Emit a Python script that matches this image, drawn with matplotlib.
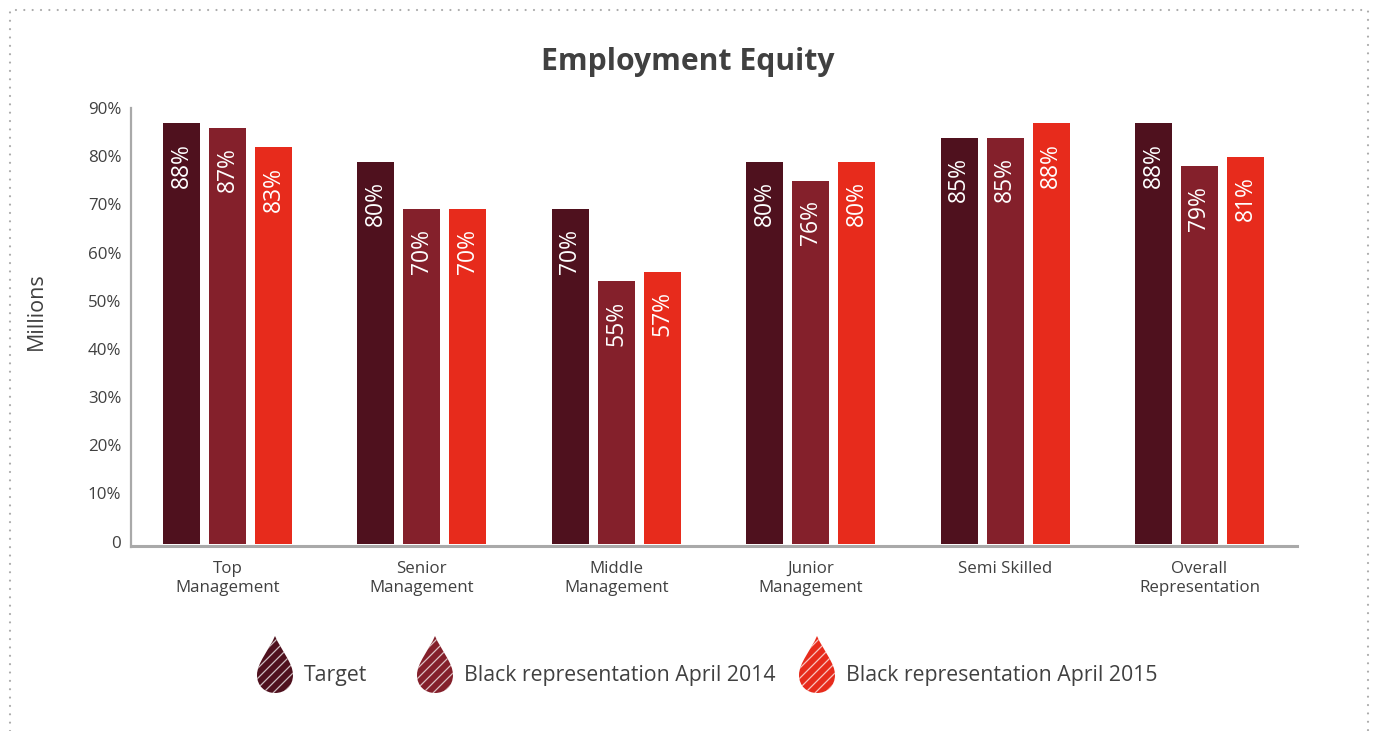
import numpy as np
import matplotlib
matplotlib.use("Agg")
import matplotlib.pyplot as plt
from matplotlib.path import Path
from matplotlib.patches import PathPatch

plt.rcParams['font.family'] = ['Open Sans', 'DejaVu Sans']

categories = ["Top\nManagement", "Senior\nManagement", "Middle\nManagement",
              "Junior\nManagement", "Semi Skilled", "Overall\nRepresentation"]
target = [88, 80, 70, 80, 85, 88]
april_2014 = [87, 70, 55, 76, 85, 79]
april_2015 = [83, 70, 57, 80, 88, 81]
tick_labels = ["0", "10%", "20%", "30%", "40%", "50%", "60%", "70%", "80%", "90%"]
series_names = ["Target", "Black representation April 2014", "Black representation April 2015"]

COLORS = ["#4f111e", "#84202b", "#e72b1c"]
TEXT = "#404040"
AXIS = "#a9a9a9"
W, H = 1375, 731

fig = plt.figure(figsize=(W / 100, H / 100), dpi=100, facecolor="white")

# overlay in pixel coordinates for the frame, title and legend
bg = fig.add_axes([0, 0, 1, 1])
bg.set_xlim(0, W)
bg.set_ylim(H, 0)
bg.axis("off")

# dotted frame, open at the bottom
bg.plot([10, 10, 1368, 1368], [H, 10, 10, H], color="#ababab", lw=1.6,
        linestyle=(0, (0.01, 3.75)), dash_capstyle="round")

bg.text(688, 62, "Employment Equity", ha="center", va="center",
        fontsize=21.7, fontweight="bold", color=TEXT)
bg.text(36, 311, "Millions", rotation=90, ha="center", va="center",
        fontsize=15.5, color=TEXT)


def draw_drop(cx, top, color):
    # teardrop outline, 36 px wide and 57 px high
    verts = [(cx, top), (cx + 6, top + 14), (cx + 18, top + 27), (cx + 18, top + 39),
             (cx + 18, top + 50), (cx + 10, top + 57), (cx, top + 57),
             (cx - 10, top + 57), (cx - 18, top + 50), (cx - 18, top + 39),
             (cx - 18, top + 27), (cx - 6, top + 14), (cx, top)]
    codes = [Path.MOVETO] + [Path.CURVE4] * 12
    patch = PathPatch(Path(verts, codes), facecolor=color, edgecolor="none", zorder=2)
    bg.add_patch(patch)
    # diagonal stripes clipped to the drop
    for off in np.arange(-30, 60, 10):
        line, = bg.plot([cx - 25, cx + 25], [top + off + 50, top + off],
                        color="white", alpha=0.72, lw=0.9, zorder=3)
        line.set_clip_path(patch)


for cx, text_x, name, color in zip([275, 435, 817], [304, 464, 846], series_names, COLORS):
    draw_drop(cx, 636, color)
    bg.text(text_x, 676, name, ha="left", va="center", fontsize=15.3, color=TEXT)

# bar chart, spanning x 131-1297 and y 108-544 px
ax = fig.add_axes([131 / W, 1 - 544 / H, (1297 - 131) / W, (544 - 108) / H])
ax.patch.set_alpha(0)

x = np.arange(len(categories))
width = 37 / 194.4
offset = 46 / 194.4
px_per_unit = 4.78
ax.set_xlim(-96.5 / 194.4, 1069.5 / 194.4)
ax.set_ylim(0, 436 / px_per_unit)

for i, (vals, color) in enumerate(zip([target, april_2014, april_2015], COLORS)):
    bars = ax.bar(x + (i - 1) * offset, vals, width, color=color, zorder=2)
    for bar, v in zip(bars, vals):
        ax.annotate(f"{v}%", (bar.get_x() + width / 2, v), xytext=(0, -14),
                    textcoords="offset points", rotation=90, ha="center", va="top",
                    fontsize=16.5, color="white", zorder=3)

for side in ["top", "right"]:
    ax.spines[side].set_visible(False)
ax.spines["left"].set_color(AXIS)
ax.spines["left"].set_linewidth(1.6)
ax.spines["left"].set_bounds(-0.6, 436 / px_per_unit)
ax.spines["bottom"].set_color(AXIS)
ax.spines["bottom"].set_linewidth(2.2)
ax.spines["bottom"].set_position(("outward", 1.5))

ax.set_xticks(x)
ax.set_xticklabels(categories, fontsize=12.2, color=TEXT, linespacing=1.28)
ax.set_yticks(np.arange(len(tick_labels)) * 10.08 + 0.5)
ax.set_yticklabels(tick_labels, fontsize=12.2, color=TEXT)
ax.tick_params(axis="both", length=0)
ax.tick_params(axis="x", pad=10.5)
ax.tick_params(axis="y", pad=7)

fig.savefig("out.png", dpi=100)
